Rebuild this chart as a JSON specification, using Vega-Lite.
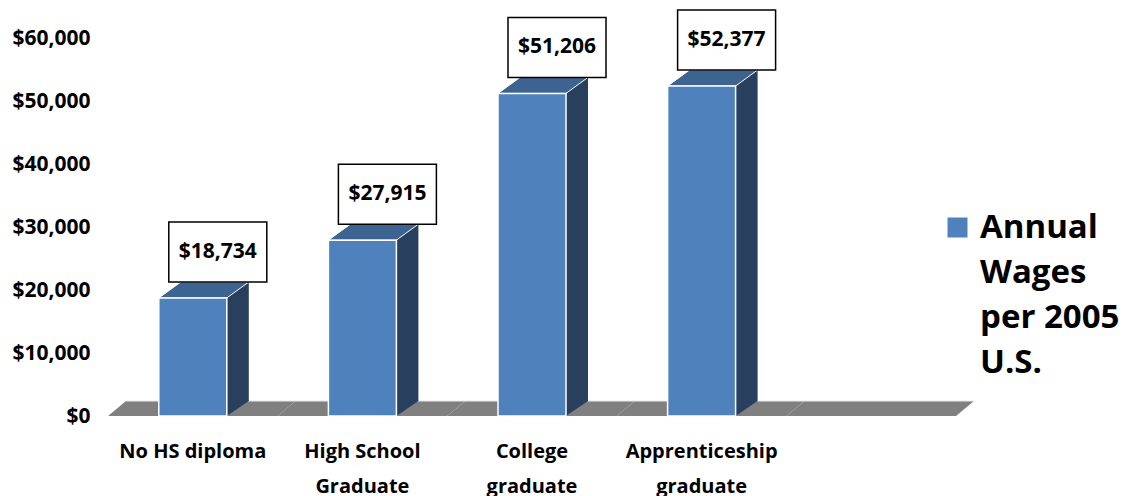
{
  "$schema": "https://vega.github.io/schema/vega-lite/v6.json",
  "width": 848,
  "height": 378,
  "autosize": {"type": "none"},
  "padding": {"left": 108, "top": 38, "right": 190, "bottom": 80},
  "background": "white",
  "datasets": {
    "wages": [
      {"category": "No HS diploma", "wage": 18734, "series": "Annual Wages per 2005 U.S."},
      {"category": "High School Graduate", "wage": 27915, "series": "Annual Wages per 2005 U.S."},
      {"category": "College graduate", "wage": 51206, "series": "Annual Wages per 2005 U.S."},
      {"category": "Apprenticeship graduate", "wage": 52377, "series": "Annual Wages per 2005 U.S."}
    ],
    "cats": [
      {"category": "No HS diploma"},
      {"category": "High School Graduate"},
      {"category": "College graduate"},
      {"category": "Apprenticeship graduate"},
      {"category": "none"}
    ]
  },
  "layer": [
    {
      "data": {"name": "cats"},
      "mark": {"type": "point", "shape": "M-84.8,0 L84.8,0 L102.8,-15 L-66.8,-15 Z", "size": 4, "filled": true, "fill": "#808080", "strokeWidth": 0, "opacity": 1},
      "encoding": {
        "x": {
          "field": "category", "type": "nominal", "sort": null,
          "scale": {"domain": ["No HS diploma", "High School Graduate", "College graduate", "Apprenticeship graduate", "none"], "paddingInner": 0, "paddingOuter": 0},
          "axis": {
            "title": null, "domain": false, "ticks": false, "grid": false, "labelAngle": 0,
            "labelPadding": 25, "labelBaseline": "top", "labelLineHeight": 35,
            "labelFont": "Open Sans", "labelFontWeight": "bold", "labelFontSize": 20, "labelColor": "#000000",
            "labelExpr": "datum.value == 'High School Graduate' ? ['High School', 'Graduate'] : datum.value == 'College graduate' ? ['College', 'graduate'] : datum.value == 'Apprenticeship graduate' ? ['Apprenticeship', 'graduate'] : datum.value == 'none' ? '' : datum.label"
          }
        },
        "y": {
          "datum": 0, "type": "quantitative",
          "scale": {"domain": [0, 60000], "nice": false},
          "axis": {
            "title": null, "domain": false, "ticks": false, "grid": false,
            "values": [0, 10000, 20000, 30000, 40000, 50000, 60000],
            "format": "$,.0f", "labelPadding": 18,
            "labelFont": "Open Sans", "labelFontWeight": "bold", "labelFontSize": 21, "labelColor": "#000000"
          }
        }
      }
    },
    {
      "data": {"name": "cats"},
      "mark": {"type": "point", "shape": "M-66.8,-15 L102.8,-15", "size": 4, "filled": false, "stroke": "#e8e8e8", "strokeWidth": 1, "opacity": 1},
      "encoding": {
        "x": {"field": "category", "type": "nominal", "sort": null},
        "y": {"datum": 0, "type": "quantitative"}
      }
    },
    {
      "data": {"name": "wages"},
      "mark": {"type": "bar", "width": 22, "xOffset": 45, "yOffset": -16, "y2Offset": -15, "fill": "#293f5e"},
      "encoding": {
        "x": {"field": "category", "type": "nominal", "sort": null},
        "y": {"field": "wage", "type": "quantitative"},
        "y2": {"datum": 0}
      }
    },
    {
      "data": {"name": "wages"},
      "mark": {"type": "point", "shape": "M34,-15 L56,-15 L34,0 Z", "size": 4, "filled": true, "fill": "#293f5e", "opacity": 1},
      "encoding": {
        "x": {"field": "category", "type": "nominal", "sort": null},
        "y": {"datum": 0, "type": "quantitative"}
      }
    },
    {
      "data": {"name": "wages"},
      "mark": {"type": "point", "shape": "M-34,0 L34,0 L56,-16 L-12,-16 Z", "size": 4, "filled": true, "fill": "#3d6391", "stroke": "white", "strokeWidth": 1, "opacity": 1},
      "encoding": {
        "x": {"field": "category", "type": "nominal", "sort": null},
        "y": {"field": "wage", "type": "quantitative"}
      }
    },
    {
      "data": {"name": "wages"},
      "mark": {"type": "bar", "width": 68, "stroke": "white", "strokeWidth": 1.5, "opacity": 1},
      "encoding": {
        "x": {"field": "category", "type": "nominal", "sort": null},
        "y": {"field": "wage", "type": "quantitative"},
        "y2": {"datum": 0},
        "color": {
          "field": "series", "type": "nominal",
          "scale": {"range": ["#4f81bd"]},
          "legend": {
            "title": null, "orient": "none", "legendX": 833, "legendY": 173,
            "symbolType": "square", "symbolSize": 400, "symbolStrokeWidth": 0, "symbolFillColor": "#4f81bd",
            "labelFont": "Open Sans", "labelFontWeight": "bold", "labelFontSize": 33, "labelColor": "#000000",
            "labelOffset": 6, "labelLimit": 400,
            "labelExpr": "['Annual', 'Wages', 'per 2005', 'U.S.']"
          }
        }
      }
    },
    {
      "data": {"name": "wages"},
      "mark": {"type": "point", "shape": "M-49,-30 L49,-30 L49,30 L-49,30 Z", "size": 4, "filled": false, "fill": "white", "fillOpacity": 1, "stroke": "black", "strokeWidth": 1.5, "opacity": 1, "xOffset": 25, "yOffset": -46},
      "encoding": {
        "x": {"field": "category", "type": "nominal", "sort": null},
        "y": {"field": "wage", "type": "quantitative"}
      }
    },
    {
      "data": {"name": "wages"},
      "mark": {"type": "text", "font": "Open Sans", "fontWeight": "bold", "fontSize": 21, "color": "#000000", "align": "center", "baseline": "middle", "xOffset": 25, "yOffset": -46},
      "encoding": {
        "x": {"field": "category", "type": "nominal", "sort": null},
        "y": {"field": "wage", "type": "quantitative"},
        "text": {"field": "wage", "type": "quantitative", "format": "$,.0f"}
      }
    }
  ],
  "config": {
    "view": {"stroke": null},
    "style": {"guide-label": {"lineHeight": 45}}
  }
}
